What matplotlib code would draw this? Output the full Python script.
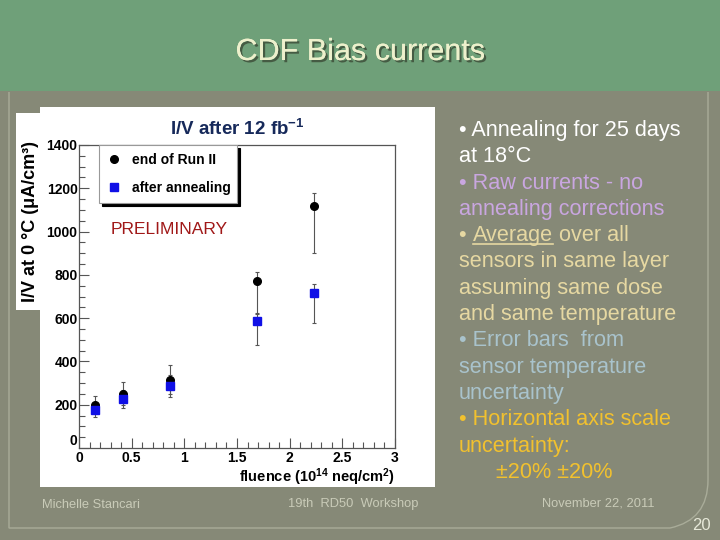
import matplotlib
matplotlib.use("Agg")
import matplotlib.pyplot as plt
import matplotlib.patheffects as pe
from matplotlib.patches import Rectangle, PathPatch
from matplotlib.path import Path
from matplotlib.lines import Line2D
from matplotlib.ticker import MultipleLocator

plt.rcParams['font.family'] = ['Liberation Sans', 'DejaVu Sans']
plt.rcParams['mathtext.default'] = 'regular'

# data
fluence = [0.15, 0.42, 0.86, 1.69, 2.23]
end_run = [200, 248, 316, 773, 1118]
end_lo = [160, 198, 250, 620, 900]
end_hi = [241, 303, 384, 815, 1180]
annealed = [175, 227, 285, 588, 715]
ann_lo = [142, 186, 235, 475, 578]
ann_hi = [210, 268, 335, 623, 756]

x_ticks = [0, 0.5, 1, 1.5, 2, 2.5, 3]
x_labels = ["0", "0.5", "1", "1.5", "2", "2.5", "3"]
y_ticks = [0, 200, 400, 600, 800, 1000, 1200, 1400]

notes = [
    ("• Annealing for 25 days", "#ffffff"),
    ("at 18°C", "#ffffff"),
    ("• Raw currents - no", "#c9a6e0"),
    ("annealing corrections", "#c9a6e0"),
    ("• ", "#e6d8a2"),
    ("sensors in same layer", "#e6d8a2"),
    ("assuming same dose", "#e6d8a2"),
    ("and same temperature", "#e6d8a2"),
    ("• Error bars  from", "#a9c3cc"),
    ("sensor temperature", "#a9c3cc"),
    ("uncertainty", "#a9c3cc"),
    ("• Horizontal axis scale", "#f2c12e"),
    ("uncertainty:", "#f2c12e"),
    ("      ±20% ±20%", "#f2c12e"),
]

W, H = 720, 540


def fx(x):
    return x / W


def fy(y):
    return 1 - y / H


fig = plt.figure(figsize=(7.2, 5.4), dpi=100, facecolor="#868977")

# slide background
fig.add_artist(Rectangle((0, fy(91)), 1, 91 / H, transform=fig.transFigure,
                         facecolor="#6fa079", edgecolor="none", zorder=-3))
border = Path([(fx(9), fy(92)), (fx(9), fy(528)), (fx(670), fy(528)),
               (fx(708), fy(520)), (fx(708), fy(480)), (fx(708), fy(92))],
              [Path.MOVETO, Path.LINETO, Path.LINETO, Path.CURVE3, Path.CURVE3, Path.LINETO])
fig.add_artist(PathPatch(border, transform=fig.transFigure, facecolor="none",
                         edgecolor="#a9ac99", lw=1, zorder=-3))

fig.text(0.5, fy(52), "CDF Bias currents", ha="center", va="center", fontsize=22,
         color="#edf0cc",
         path_effects=[pe.withSimplePatchShadow(offset=(1.6, -1.6), shadow_rgbFace="#3b4a36", alpha=0.8),
                       pe.Normal()])

# white panels
fig.add_artist(Rectangle((fx(40), fy(487)), (435 - 40) / W, (487 - 107) / H,
                         transform=fig.transFigure, facecolor="white", edgecolor="none", zorder=-2))
fig.add_artist(Rectangle((fx(16), fy(310)), (41 - 16) / W, (310 - 113) / H,
                         transform=fig.transFigure, facecolor="white", edgecolor="none", zorder=-2))

ax = fig.add_axes([fx(79), fy(448), 316 / W, 303 / H])
ax.set_facecolor("white")

ax.errorbar(fluence, end_run, yerr=[[v - l for v, l in zip(end_run, end_lo)],
                                     [h - v for v, h in zip(end_run, end_hi)]],
            fmt="none", ecolor="#555555", elinewidth=0.8, capsize=1.5, capthick=0.8)
ax.errorbar(fluence, annealed, yerr=[[v - l for v, l in zip(annealed, ann_lo)],
                                      [h - v for v, h in zip(annealed, ann_hi)]],
            fmt="none", ecolor="#555555", elinewidth=0.8, capsize=1.5, capthick=0.8)
h1, = ax.plot(fluence, end_run, "o", color="black", ms=5.5, label="end of Run II", zorder=3)
h2, = ax.plot(fluence, annealed, "s", color="#1010e6", ms=6, label="after annealing", zorder=4)

ax.set_xlim(0, 3)
ax.set_ylim(0, 1400)
ax.set_xticks(x_ticks)
ax.set_xticklabels(x_labels)
ax.set_yticks(y_ticks)
ax.xaxis.set_minor_locator(MultipleLocator(0.1))
ax.yaxis.set_minor_locator(MultipleLocator(50))
ax.tick_params(which="both", direction="in", color="#555555", width=0.8)
ax.tick_params(which="major", length=7, labelsize=10)
ax.tick_params(which="minor", length=4)
ax.tick_params(axis="x", pad=2)
ax.tick_params(axis="y", pad=1)
for lbl in ax.get_xticklabels() + ax.get_yticklabels():
    lbl.set_fontweight("bold")
ax.get_yticklabels()[0].set_va("bottom")
for sp in ax.spines.values():
    sp.set_color("#555555")
    sp.set_linewidth(0.9)

ax.set_xlabel("fluence (10$^{14}$ neq/cm$^{2}$)", loc="right", fontsize=10.5,
              fontweight="bold", labelpad=1)
fig.text(fx(31), fy(222), "I/V at 0 °C (μA/cm³)", rotation=90, ha="center", va="center",
         fontsize=13, fontweight="bold")
ax.set_title("I/V after 12 fb$^{-1}$", fontsize=13.5, fontweight="bold", color="#16295a", pad=7)
ax.text(0.30, 1010, "PRELIMINARY", fontsize=12.5, color="#a01818", va="center")

leg = ax.legend(handles=[h1, h2], loc="upper left", bbox_to_anchor=(0.063, 0.809, 0.437, 0.191),
                mode="expand", borderaxespad=0, fancybox=False, edgecolor="#999999",
                framealpha=1, shadow={"color": "black", "alpha": 1, "ox": 2.5, "oy": -2.5},
                prop={"weight": "bold", "size": 10}, handlelength=1.0, handletextpad=0.8,
                labelspacing=0.95, borderpad=0.6)
leg.get_frame().set_linewidth(0.8)

# bullet text on the right
fig.canvas.draw()
renderer = fig.canvas.get_renderer()
for i, (line, col) in enumerate(notes):
    x0 = fx(496) if line.startswith("  ") else fx(459)
    t = fig.text(x0, fy(136 + 26.3 * i), line.strip() if x0 != fx(459) else line,
                 fontsize=15.6, color=col, va="baseline")
    if line == "• ":
        bb = t.get_window_extent(renderer)
        t2 = fig.text(bb.x1 / fig.bbox.width, fy(136 + 26.3 * i), "Average", fontsize=15.6,
                      color=col, va="baseline")
        bb2 = t2.get_window_extent(renderer)
        fig.text(bb2.x1 / fig.bbox.width, fy(136 + 26.3 * i), " over all", fontsize=15.6,
                 color=col, va="baseline")
        fig.add_artist(Line2D([bb2.x0 / fig.bbox.width, bb2.x1 / fig.bbox.width],
                              [fy(136 + 26.3 * i + 3)] * 2, transform=fig.transFigure,
                              color=col, lw=1.2))

fig.text(fx(42), fy(508), "Michelle Stancari", fontsize=9.3, color="#c9cbb8")
fig.text(fx(288), fy(507), "19th  RD50  Workshop", fontsize=9.3, color="#c9cbb8")
fig.text(fx(542), fy(506), "November 22, 2011", fontsize=9.3, color="#c9cbb8")
fig.text(fx(692), fy(530), "20", fontsize=12, color="#e6e8d8")

fig.savefig("out.png", dpi=100, facecolor=fig.get_facecolor())
